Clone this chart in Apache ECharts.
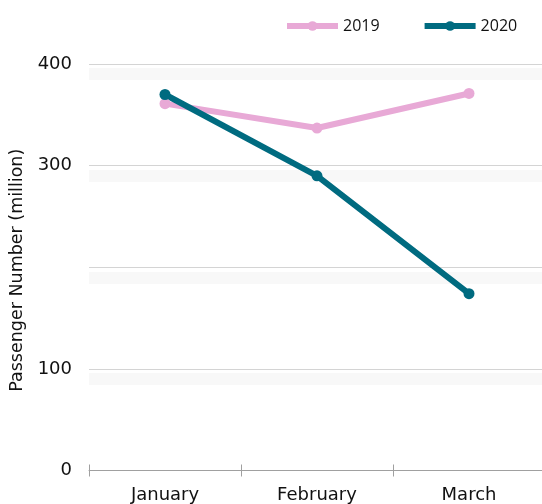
<!DOCTYPE html>
<html>
<head>
<meta charset="utf-8">
<script src="https://cdn.jsdelivr.net/npm/echarts@6/dist/echarts.min.js"></script>
<style>
  html, body { margin: 0; padding: 0; background: #fff; }
  #chart { width: 542px; height: 504px; }
</style>
</head>
<body>
<div id="chart"></div>
<script>
var months = ["January", "February", "March"];
var passengers2019 = [361, 337, 371];
var passengers2020 = [370, 290, 174];

var pink = "#e8a9d6";
var teal = "#006b80";
var font = "DejaVu Sans";

var chart = echarts.init(document.getElementById("chart"));
chart.setOption({
  animation: false,
  legend: {
    left: 279,
    top: 13,
    itemWidth: 51,
    itemHeight: 12,
    itemGap: 42,
    lineStyle: { width: 6 },
    textStyle: { fontFamily: "Open Sans", fontSize: 16, color: "#111" },
    data: ["2019", "2020"]
  },
  grid: [
    { left: 89, right: -3, top: 64, bottom: 33.5, outerBoundsMode: "none" },
    // shifted copy, only used for the soft bands under the grid lines
    { left: 89, right: -3, top: 74, bottom: 125, outerBoundsMode: "none" }
  ],
  xAxis: [
    {
      type: "category",
      data: months,
      gridIndex: 0,
      boundaryGap: true,
      axisLine: { show: true, lineStyle: { color: "#a0a0a0", width: 1 } },
      axisTick: { show: true, length: 6, lineStyle: { color: "#a0a0a0", width: 1 } },
      axisLabel: { fontFamily: font, fontSize: 18, color: "#111", margin: 16 }
    },
    {
      type: "category",
      data: months,
      gridIndex: 0,
      position: "bottom",
      axisLine: { show: false },
      axisTick: { show: true, inside: true, length: 6, lineStyle: { color: "#a0a0a0", width: 1 } },
      axisLabel: { show: false }
    },
    {
      type: "category",
      data: months,
      gridIndex: 1,
      show: false
    }
  ],
  yAxis: [
    {
      type: "value",
      gridIndex: 0,
      min: 0,
      max: 400,
      interval: 100,
      name: "Passenger Number (million)",
      nameLocation: "middle",
      nameGap: 62,
      nameTextStyle: { fontFamily: font, fontSize: 17.5, color: "#111", padding: [0, 6, 0, 0] },
      axisLine: { show: false },
      axisTick: { show: false },
      axisLabel: {
        fontFamily: font,
        fontSize: 18,
        color: "#111",
        margin: 17,
        formatter: function (v) {
          return v === 200 ? "" : String(v);
        }
      },
      splitLine: { lineStyle: { color: "#d4d4d4", width: 1 } }
    },
    {
      type: "value",
      gridIndex: 1,
      min: 100,
      max: 400,
      interval: 100,
      axisLine: { show: false },
      axisTick: { show: false },
      axisLabel: { show: false },
      splitLine: {
        lineStyle: {
          color: "rgba(0,0,0,0.028)",
          width: 12,
          shadowBlur: 6,
          shadowColor: "rgba(0,0,0,0.03)"
        }
      }
    }
  ],
  series: [
    {
      name: "2019",
      type: "line",
      xAxisIndex: 0,
      yAxisIndex: 0,
      data: passengers2019,
      symbol: "circle",
      symbolSize: 11,
      lineStyle: { color: pink, width: 6 },
      itemStyle: { color: pink }
    },
    {
      name: "2020",
      type: "line",
      xAxisIndex: 0,
      yAxisIndex: 0,
      data: passengers2020,
      symbol: "circle",
      symbolSize: 11,
      lineStyle: { color: teal, width: 6 },
      itemStyle: { color: teal }
    }
  ]
});
</script>
</body>
</html>
